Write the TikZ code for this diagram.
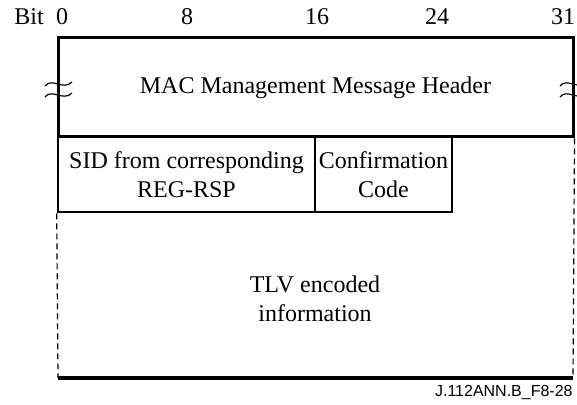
\documentclass[tikz,border=0pt]{standalone}
\usepackage{fontspec}
\setmainfont{Liberation Serif}
\setsansfont{Liberation Sans}
\usetikzlibrary{positioning}
\tikzset{
  every picture/.style={x=0.5pt, y=-0.5pt, font=\fontsize{12}{14.5}\selectfont},
  field/.style={draw, line width=1.3pt, align=center, inner sep=0pt, minimum height=#1},
  field/.default=37.5pt,
  open/.style={dashed, dash pattern=on 3pt off 2pt, line width=0.6pt},
  base/.style={line width=1.6pt},
  brk/.style={line width=0.6pt},
}

\begin{document}
\begin{tikzpicture}
  \useasboundingbox (0,0) rectangle (577,405);
  % header word
  \node[field=49.5pt, minimum width=257.5pt, line width=1.5pt] (hdr) at (315.5,87.5) {MAC Management Message Header};
  \node[field, minimum width=128.5pt] (sid) at (186.5,174.5) {SID from corresponding\\REG-RSP};
  \node[field, minimum width=68.5pt] (conf) at (383.5,174.5) {Confirmation\\Code};
  % open-ended TLV area
  \coordinate (bl) at (58,378);
  \coordinate (br) at (573,378);
  \draw[open] (sid.south west) -- (bl);
  \draw[open] (hdr.south east) -- (br);
  \draw[base] (bl) -- (br);
  \node (tlv) at (315,299) [align=center] {TLV encoded\\information};
  % bit ruler
  \node (bit) at (29,17) {Bit};
  \foreach \b/\xx in {0/62, 8/187, 16/317, 24/437, 31/563} \node (b\b) at (\xx,17) {\b};
  % break marks
  \foreach \dy in {0,11} {
    \draw[brk] (45,86+\dy) .. controls (52,77+\dy) and (63,91+\dy) .. (72,82+\dy);
    \draw[brk] (560,86+\dy) .. controls (567,77+\dy) and (578,91+\dy) .. (587,82+\dy);
  }
  \node[font=\sffamily\fontsize{8}{9}\selectfont, anchor=east, inner sep=0pt] (ref) at (573,393) {J.112ANN.B\_F8-28};
\end{tikzpicture}
\end{document}
